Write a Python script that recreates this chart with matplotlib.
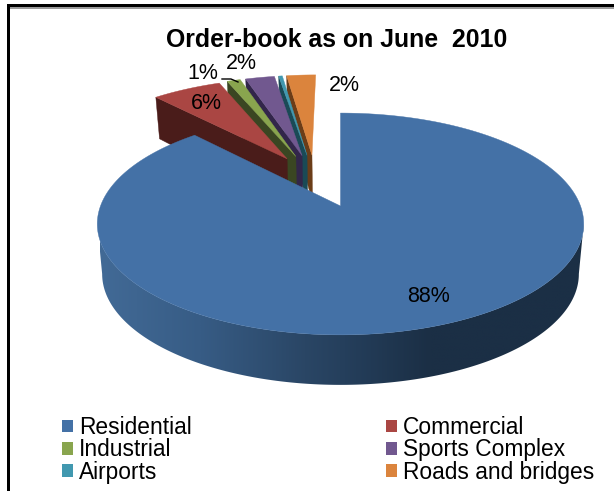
import numpy as np
import matplotlib
matplotlib.use("Agg")
import matplotlib.pyplot as plt
from matplotlib.colors import LinearSegmentedColormap
from matplotlib.patches import Patch, Polygon, Rectangle

plt.rcParams["font.family"] = ["Liberation Sans", "DejaVu Sans"]

TITLE = "Order-book as on June  2010"
categories = ["Residential", "Commercial", "Industrial",
              "Sports Complex", "Airports", "Roads and bridges"]
shares = [88.1, 5.7, 1.1, 2.4, 0.3, 2.4]
top_colors = ["#4471A6", "#AA4643", "#89A54E", "#71588F", "#4198AF", "#DB843D"]
wall_colors = ["#2A4665", "#4A1C1A", "#3A4622", "#32264A", "#1A4A56", "#6B3D18"]
label_positions = [(428, 296), (206, 103), (203, 73), (241, 63), None, (344, 85)]

# Perspective projection of the tilted pie onto the page (pixel units)
ORIGIN_X, ORIGIN_Y = 340.5, 206.0
SCALE_X, SCALE_Y, TILT = 240.0, 108.0, 0.162
EXPLODE = 0.265
SMALL_SLICE_SHIFT = -0.012
DEPTH = 50.0


def project(u, v):
    den = 1 + TILT * v
    return ORIGIN_X + SCALE_X * u / den, ORIGIN_Y - SCALE_Y * v / den


def drop(x, y, v):
    # Lower rim of the disc: thinner towards the back, verticals converge slightly
    d = DEPTH - 7.0 * np.maximum(v, 0)
    return ORIGIN_X + (x - ORIGIN_X) * 0.98, y + d


fig = plt.figure(figsize=(6.14, 4.91), dpi=100)
ax = fig.add_axes([0, 0, 1, 1])
ax.set_xlim(0, 614)
ax.set_ylim(491, 0)
ax.axis("off")

# Page frame: left and top rule with a soft grey line under the top
ax.add_patch(Rectangle((7.2, 4), 2.8, 487, color="black", lw=0, zorder=1))
ax.add_patch(Rectangle((7.2, 4), 607, 3, color="black", lw=0, zorder=1))
ax.add_patch(Rectangle((10, 7), 604, 1.8, color="#9A9A9A", lw=0, zorder=1))

fractions = np.array(shares) / sum(shares)
ends = np.cumsum(fractions) * 2 * np.pi
starts = ends - fractions * 2 * np.pi
mid0 = (starts[0] + ends[0]) / 2
centre = (-EXPLODE * np.sin(mid0), -EXPLODE * np.cos(mid0))

# Rim of the big slice, shaded left to right
rim_cmap = LinearSegmentedColormap.from_list("rim", [
    (0.0, "#426A96"), (0.2, "#375C85"), (0.41, "#2A4665"),
    (0.49, "#253F5C"), (0.66, "#1B2F45"), (1.0, "#1B2F45")])

# Back slices first, the large front slice last
for i in list(range(len(shares) - 1, 0, -1)) + [0]:
    t0, t1 = starts[i], ends[i]
    mid = (t0 + t1) / 2
    cu = centre[0] + EXPLODE * np.sin(mid) if i else 0.0
    cv = centre[1] + EXPLODE * np.cos(mid) if i else 0.0
    if i >= 2:
        cu += SMALL_SLICE_SHIFT
    ts = np.linspace(t0, t1, max(12, int(np.degrees(t1 - t0))))
    us, vs = cu + np.sin(ts), cv + np.cos(ts)
    xs, ys = project(us, vs)
    ax_, ay_ = project(cu, cv)
    z = 5 + (len(shares) - i)

    if i == 0:
        # Only the part of the rim facing the viewer can be seen
        arc = np.linspace(np.radians(99.3), np.radians(260.7), 300)
        rx, ry = project(np.sin(arc), np.cos(arc))
        bx, by = drop(rx, ry, np.cos(arc))
        outline = Polygon(np.r_[np.c_[rx, ry], np.c_[bx, by][::-1]], closed=True,
                          facecolor="none", edgecolor="none",
                          transform=ax.transData)
        ax.add_patch(outline)
        grad = ax.imshow(np.linspace(0, 1, 512)[None, :], cmap=rim_cmap, aspect="auto",
                         extent=(100, 600, 400, 200), zorder=z, interpolation="bilinear")
        grad.set_clip_path(outline)
        ax.set_xlim(0, 614)
        ax.set_ylim(491, 0)
    else:
        # Cut face on the leading edge
        bx0, by0 = drop(ax_, ay_, cv)
        bx1, by1 = drop(xs[0], ys[0], vs[0])
        ax.add_patch(Polygon([(ax_, ay_), (xs[0], ys[0]), (bx1, by1), (bx0, by0)],
                             facecolor=wall_colors[i], edgecolor=wall_colors[i],
                             lw=0.3, zorder=z))

    # Top face
    ax.add_patch(Polygon([(ax_, ay_)] + list(zip(xs, ys)),
                         facecolor=top_colors[i], edgecolor=top_colors[i],
                         lw=0.3, zorder=z))

# Value labels
for share, pos in zip(shares, label_positions):
    if pos is not None:
        ax.text(pos[0], pos[1], f"{round(share)}%", fontsize=15.5, ha="center",
                va="center", color="black", zorder=20)
ax.plot([222, 231, 238], [79, 79, 82], color="black", lw=1.0, zorder=20)

ax.text(337, 40, TITLE, fontsize=17.9, fontweight="bold", ha="center",
        va="center", color="black", zorder=20)

# Legend fills column by column, so hand the entries over in that order
order = [0, 2, 4, 1, 3, 5]
handles = [Patch(facecolor=top_colors[i], edgecolor="none", label=categories[i]) for i in order]
ax.legend(handles=handles, ncol=2, loc="upper left", bbox_to_anchor=(62 / 614, 1 - 416 / 491),
          borderaxespad=0, borderpad=0, frameon=False, fontsize=16.4,
          handlelength=0.48, handleheight=0.48, handletextpad=0.28,
          labelspacing=-0.03, columnspacing=8.51)

fig.savefig("out.png", dpi=100, facecolor="white")
